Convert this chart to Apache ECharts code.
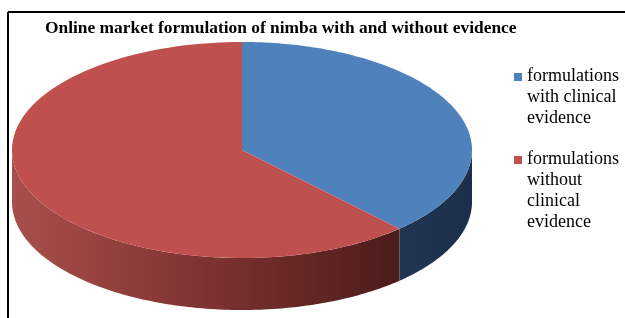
<!DOCTYPE html>
<html>
<head>
<meta charset="utf-8">
<script src="https://cdn.jsdelivr.net/npm/echarts@6/dist/echarts.min.js"></script>
<style>
  html, body { margin: 0; padding: 0; background: #fff; }
  #chart { width: 625px; height: 318px; }
</style>
</head>
<body>
<div id="chart"></div>
<script>
// data
const categories = ['formulations with clinical evidence', 'formulations without clinical evidence'];
const shares = [38, 62];
const topColors = ['#4f81bd', '#c0504d'];

// pie geometry (pixels)
const cx = 242, cy = 150, rx = 230, ry = 108, depth = 52;

const total = shares.reduce((a, b) => a + b, 0);
const cum = [0];
shares.forEach((v, i) => cum.push(cum[i] + v));

const pt = (t, dy) => [cx + rx * Math.sin(t), cy - ry * Math.cos(t) + dy];
const arc = (a, b, dy) => {
    const n = 120, pts = [];
    for (let k = 0; k <= n; k++) pts.push(pt(a + (b - a) * k / n, dy));
    return pts;
};

// side wall shading, like excel's 3d pie
const sideFill = [
    new echarts.graphic.LinearGradient(cx, 0, cx + rx, 0, [
        { offset: 0, color: '#2a4468' },
        { offset: 1, color: '#1c2f4a' }
    ], true),
    new echarts.graphic.LinearGradient(cx - rx, 0, cx + rx * 0.7, 0, [
        { offset: 0, color: '#a84f4b' },
        { offset: 0.5, color: '#7e3230' },
        { offset: 1, color: '#4a1c1a' }
    ], true)
];

function renderItem(params, api) {
    const i = params.dataIndex;
    const a1 = cum[i] / total * Math.PI * 2;
    const a2 = cum[i + 1] / total * Math.PI * 2;
    const children = [];
    // front wall only (lower half of ellipse)
    const s = Math.max(a1, Math.PI / 2), e = Math.min(a2, Math.PI * 1.5);
    if (s < e) {
        children.push({
            type: 'polygon',
            z2: 0,
            shape: { points: arc(s, e, 0).concat(arc(e, s, depth)) },
            style: { fill: sideFill[i] }
        });
    }
    children.push({
        type: 'polygon',
        z2: 10,
        shape: { points: [[cx, cy]].concat(arc(a1, a2, 0)) },
        style: { fill: topColors[i] }
    });
    return { type: 'group', children: children };
}

const legendGraphics = [];
const legendTop = [66, 149];
categories.forEach((name, i) => {
    legendGraphics.push({
        type: 'rect',
        shape: { x: 514, y: legendTop[i] + 7, width: 8, height: 8 },
        style: { fill: topColors[i] }
    });
    legendGraphics.push({
        type: 'text',
        x: 527,
        y: legendTop[i],
        style: {
            text: name,
            width: 100,
            overflow: 'break',
            fontFamily: 'Liberation Serif',
            fontSize: 18,
            lineHeight: 21,
            fill: '#000',
            verticalAlign: 'top'
        }
    });
});

const chart = echarts.init(document.getElementById('chart'));
chart.setOption({
    backgroundColor: '#fff',
    animation: false,
    title: {
        text: 'Online market formulation of nimba with and without evidence',
        left: 40,
        top: 15,
        textStyle: {
            fontFamily: 'Liberation Serif',
            fontWeight: 'bold',
            fontSize: 17.4,
            color: '#000'
        }
    },
    graphic: [
        //边框
        { type: 'line', shape: { x1: 8, y1: 12, x2: 625, y2: 12 }, style: { stroke: '#000', lineWidth: 2 } },
        { type: 'line', shape: { x1: 8, y1: 12, x2: 8, y2: 318 }, style: { stroke: '#000', lineWidth: 2 } }
    ].concat(legendGraphics),
    series: [{
        type: 'custom',
        coordinateSystem: 'none',
        renderItem: renderItem,
        data: shares.map((v, i) => ({ name: categories[i], value: v }))
    }]
});
</script>
</body>
</html>
